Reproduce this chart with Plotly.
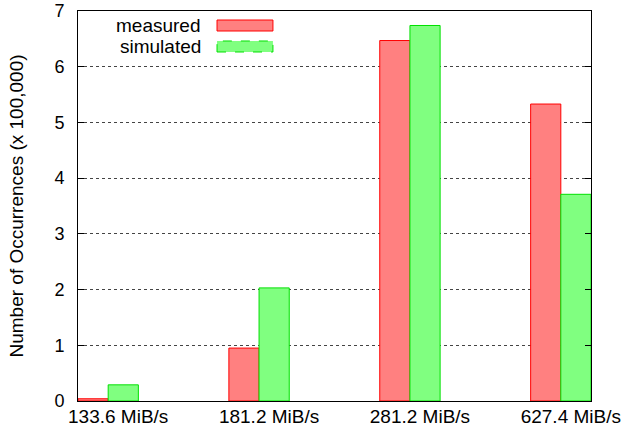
import plotly.graph_objects as go

categories = ["133.6 MiB/s", "181.2 MiB/s", "281.2 MiB/s", "627.4 MiB/s"]
measured = [0.04, 0.95, 6.47, 5.33]
simulated = [0.29, 2.03, 6.74, 3.71]
y_ticks = [0, 1, 2, 3, 4, 5, 6, 7]
series_names = ["measured", "simulated"]

FONT = "Liberation Sans, Arial, Helvetica, sans-serif"

fig = go.Figure()
fig.add_trace(go.Bar(
    x=categories, y=measured, name=series_names[0],
    marker=dict(color="#FF8080", line=dict(color="#FF0000", width=1)),
))
fig.add_trace(go.Bar(
    x=categories, y=simulated, name=series_names[1],
    marker=dict(color="#80FF80", line=dict(color="#00E000", width=1)),
))

# legend drawn gnuplot-style: text right-aligned, sample box after it
legend_style = [
    (series_names[0], 0.9641, 0.9769, 0.9487, "#FF8080", "#FF0000", "solid"),
    (series_names[1], 0.9077, 0.9231, 0.8949, "#80FF80", "#00E000", "dash"),
]
for name, yc, y1, y0, fill, line, dash in legend_style:
    fig.add_annotation(x=0.2437, y=yc, xref="paper", yref="paper",
                       text=name, showarrow=False,
                       xanchor="right", yanchor="middle",
                       font=dict(family=FONT, size=19, color="black"))
    fig.add_shape(type="rect", xref="paper", yref="paper",
                  x0=0.271, x1=0.380, y0=y0, y1=y1,
                  fillcolor=fill, line=dict(color=line, width=1, dash=dash))

fig.update_layout(
    width=626, height=427,
    margin=dict(l=78, r=35, t=11, b=26, autoexpand=False),
    paper_bgcolor="white", plot_bgcolor="white",
    barmode="group", bargap=0.6, bargroupgap=0,
    showlegend=False,
    font=dict(family=FONT, size=19, color="black"),
    xaxis=dict(
        type="category", range=[-0.2, 3.2], automargin=False,
        showline=True, linecolor="black", linewidth=1, mirror=True,
        ticks="", showgrid=False,
        ticklabelshift=10, ticklabelstandoff=-2,
        ticklabeloverflow="allow",
        tickfont=dict(family=FONT, size=19),
    ),
    yaxis=dict(
        range=[0, 7], tickvals=y_ticks, automargin=False,
        showline=True, linecolor="black", linewidth=1, mirror="ticks",
        ticks="inside", ticklen=6, tickcolor="black",
        showgrid=True, gridcolor="#444444", griddash="dot", gridwidth=1,
        zeroline=False,
        ticklabelstandoff=9,
        ticklabeloverflow="allow",
        tickfont=dict(family=FONT, size=18),
        title=dict(text="Number of Occurrences (x 100,000)",
                   font=dict(family=FONT, size=19), standoff=25),
    ),
)

fig.write_html("out.html", config={"displayModeBar": False},
               post_script="document.body.style.margin='0';")
